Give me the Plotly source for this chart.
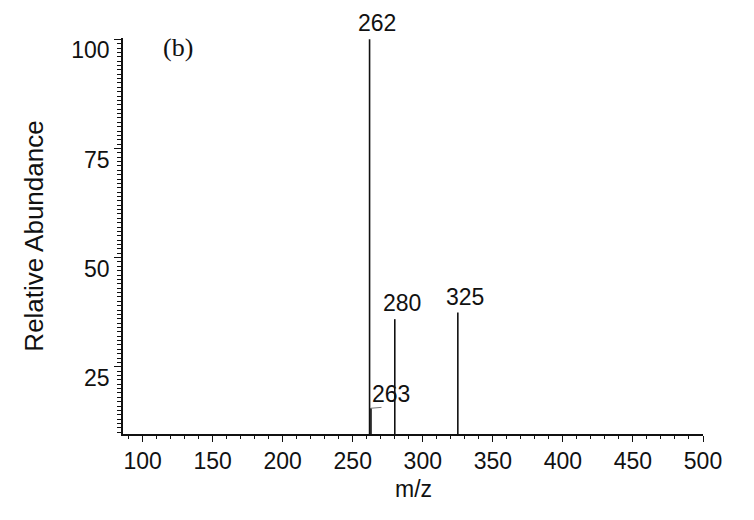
import plotly.graph_objects as go

# Data
mz = [262, 263, 280, 325]
abundance = [100, 15.5, 35.9, 37.4]
labels = ["262", "263", "280", "325"]
baseline = 9.6

x_range = [86, 500]
y_range = [baseline, 100.3]
x_ticks = [100, 150, 200, 250, 300, 350, 400, 450, 500]
y_ticks = [25, 50, 75, 100]

xs, ys = [], []
for m, a in zip(mz, abundance):
    xs += [m, m, None]
    ys += [baseline, a, None]

fig = go.Figure()
fig.add_trace(go.Scatter(x=xs, y=ys, mode="lines",
                         line=dict(color="#111111", width=1.6),
                         hoverinfo="skip", showlegend=False))

font = dict(family="Liberation Sans, Arial, sans-serif", color="#111111")

# peak labels
for m, a, t in zip(mz, abundance, labels):
    if t == "263":
        fig.add_annotation(x=m, y=a, text="", showarrow=True, arrowhead=0,
                           arrowwidth=1, arrowcolor="#777777",
                           ax=12, ay=-1, xref="x", yref="y")
        fig.add_annotation(x=m, y=a, text=t, showarrow=False,
                           xanchor="center", yanchor="bottom",
                           xshift=20, yshift=-1, font=dict(size=23, **font))
    else:
        fig.add_annotation(x=m, y=a, text=t, showarrow=False,
                           xanchor="center", yanchor="bottom",
                           xshift=7, yshift=1, font=dict(size=23, **font))

fig.add_annotation(x=0.095, y=0.975, xref="paper", yref="paper", text="(b)",
                   showarrow=False, xanchor="center", yanchor="middle",
                   font=dict(family="Liberation Serif, Times New Roman, serif",
                             size=26, color="#111111"))

# x-axis title
fig.add_annotation(x=0.5, y=-0.14, xref="paper", yref="paper", text="m/z",
                   showarrow=False, xanchor="center", yanchor="middle",
                   font=dict(size=23, **font))

fig.update_layout(
    width=754, height=520,
    margin=dict(l=123, r=51, t=38, b=86),
    paper_bgcolor="white", plot_bgcolor="white",
    font=font,
    xaxis=dict(range=x_range, tickvals=x_ticks,
               ticktext=[str(v) for v in x_ticks],
               showgrid=False, zeroline=False,
               showline=True, linecolor="#111111", linewidth=1.5,
               ticks="outside", ticklen=6, tickwidth=1.3, tickcolor="#111111",
               minor=dict(dtick=10, tick0=0, ticks="outside", ticklen=3,
                          tickwidth=1.2, tickcolor="#111111", showgrid=False),
               tickfont=dict(size=23, **font)),
    yaxis=dict(range=y_range, tickvals=y_ticks,
               ticktext=[str(v) for v in y_ticks],
               showgrid=False, zeroline=False,
               showline=True, linecolor="#111111", linewidth=1.5,
               ticks="outside", ticklen=7, tickwidth=1.3, tickcolor="#111111",
               ticklabelshift=11,
               minor=dict(dtick=1, tick0=0, ticks="outside", ticklen=4,
                          tickwidth=1, tickcolor="#111111", showgrid=False),
               tickfont=dict(size=23, **font),
               title=dict(text="Relative Abundance", font=dict(size=26, **font),
                          standoff=20)),
)

fig.write_html("out.html")
